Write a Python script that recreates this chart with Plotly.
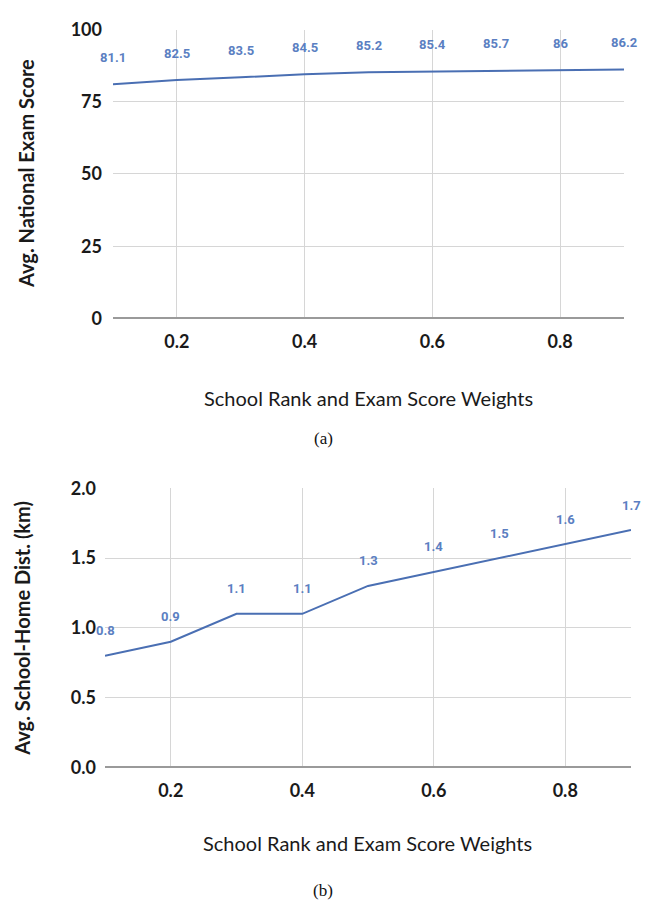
import plotly.graph_objects as go

weights = [0.1, 0.2, 0.3, 0.4, 0.5, 0.6, 0.7, 0.8, 0.9]
exam_scores = [81.1, 82.5, 83.5, 84.5, 85.2, 85.4, 85.7, 86, 86.2]
distances = [0.8, 0.9, 1.1, 1.1, 1.3, 1.4, 1.5, 1.6, 1.7]
x_ticks = [0.2, 0.4, 0.6, 0.8]
y_ticks_a = [0, 25, 50, 75, 100]
y_ticks_b = [0.0, 0.5, 1.0, 1.5, 2.0]

LINE = "#4a6fb3"
LABEL = "#5b7fc2"
GRID = "#d6d6d6"
AXFONT = "Lato"

fig = go.Figure()
fig.add_trace(go.Scatter(x=weights, y=exam_scores, mode="lines",
                         line=dict(color=LINE, width=2), xaxis="x", yaxis="y",
                         showlegend=False, hoverinfo="skip"))
fig.add_trace(go.Scatter(x=weights, y=distances, mode="lines",
                         line=dict(color=LINE, width=2), xaxis="x2", yaxis="y2",
                         showlegend=False, hoverinfo="skip"))

tickfont = dict(family=AXFONT, size=18, color="#1a1a1a", weight="bold")

common_x = dict(range=[0.1, 0.9], tickvals=x_ticks, ticktext=[f"{v:.1f}" for v in x_ticks],
                showgrid=True, gridcolor=GRID, gridwidth=1, zeroline=False,
                showline=False, tickfont=tickfont, ticklabelstandoff=11)

fig.update_layout(
    width=645, height=912,
    margin=dict(l=0, r=0, t=0, b=0),
    paper_bgcolor="white", plot_bgcolor="white",
    xaxis=dict(domain=[113/645, 624/645], anchor="y", **common_x),
    yaxis=dict(domain=[1-314/912, 1-18/912], anchor="x", range=[0, 100],
               tickvals=y_ticks_a, showgrid=True, gridcolor=GRID, gridwidth=1,
               zeroline=True, zerolinecolor="#9a9a9a", zerolinewidth=2,
               tickfont=tickfont, ticklabelstandoff=10),
    xaxis2=dict(domain=[105/645, 631/645], anchor="y2", **common_x),
    yaxis2=dict(domain=[1-774/912, 1-488/912], anchor="x2", range=[0, 2],
                tickvals=y_ticks_b, tickformat=".1f", showgrid=True, gridcolor=GRID,
                gridwidth=1, zeroline=True, zerolinecolor="#9a9a9a", zerolinewidth=2,
                tickfont=tickfont, ticklabelstandoff=8),
)

annotations = []
for xv, yv in zip(weights, exam_scores):
    annotations.append(dict(x=xv, y=yv, xref="x", yref="y", text=f"{yv:g}",
                            showarrow=False, yshift=27,
                            font=dict(family="Roboto", size=13, color=LABEL, weight="bold")))
for xv, yv in zip(weights, distances):
    annotations.append(dict(x=xv, y=yv, xref="x2", yref="y2", text=f"{yv:g}",
                            showarrow=False, yshift=25,
                            font=dict(family="Roboto", size=13, color=LABEL, weight="bold")))

titlefont = dict(family=AXFONT, size=20, color="#1a1a1a", weight="bold")
xtitlefont = dict(family=AXFONT, size=20, color="#1a1a1a")
center = dict(xanchor="center", yanchor="middle", showarrow=False, xref="paper", yref="paper")
annotations += [
    dict(x=26/645, y=1-166/912, text="Avg. National Exam Score", textangle=-90,
         font=titlefont, **center),
    dict(x=369/645, y=1-396/912, text="School Rank and Exam Score Weights",
         font=xtitlefont, **center),
    dict(x=323/645, y=1-437/912, text="(a)",
         font=dict(family="Liberation Serif", size=17, color="#111"), **center),
    dict(x=22/645, y=1-632/912, text="Avg. School-Home Dist. (km)", textangle=-90,
         font=titlefont, **center),
    dict(x=367/645, y=1-852/912, text="School Rank and Exam Score Weights",
         font=xtitlefont, **center),
    dict(x=323/645, y=1-900/912, text="(b)",
         font=dict(family="Liberation Serif", size=17, color="#111"), **center),
]
fig.update_layout(annotations=annotations)

fig.write_html("out.html", config={"displayModeBar": False})

with open("out.html", "r", encoding="utf-8") as f:
    html = f.read()
html = html.replace("<head>", "<head><style>html,body{margin:0;padding:0;overflow:hidden}</style>", 1)
with open("out.html", "w", encoding="utf-8") as f:
    f.write(html)
